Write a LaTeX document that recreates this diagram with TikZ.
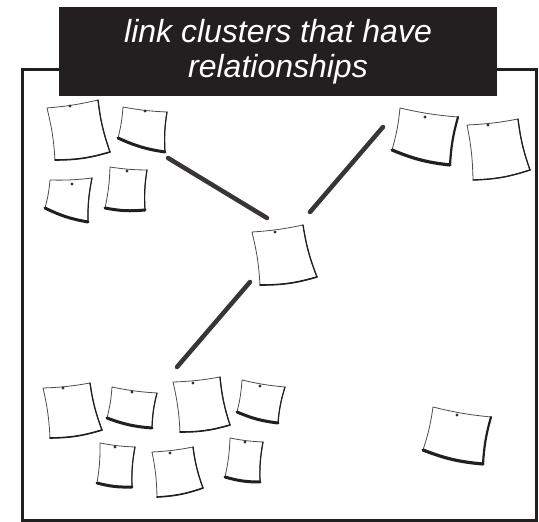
\documentclass[tikz,border=0pt]{standalone}
\usepackage{fontspec}
\setmainfont{Liberation Sans}
\definecolor{ink}{HTML}{231F20}
\tikzset{
  noteline/.style={draw=black!70, line width=0.8pt, fill=white, line join=round},
  noteshadow/.style={draw=ink, line cap=round},
  pinhead/.style={circle, fill=black!80, inner sep=0pt, minimum size=3.2pt},
  linkbar/.style={draw=ink!90, line width=4.5pt, line cap=round},
  frameline/.style={draw=ink, line width=3pt},
  titlebox/.style={fill=ink, text=white, inner sep=0pt, align=center,
    minimum width=438pt, minimum height=89pt,
    font=\fontsize{32}{35}\selectfont\itshape},
}
% #1 name, #2-#5 corners (tl, tr, br, bl), #6 pin, #7 bottom weight, #8 right weight
\newcommand\stickynote[8]{%
  \coordinate (#1-tl) at (#2);
  \coordinate (#1-tr) at (#3);
  \coordinate (#1-br) at (#4);
  \coordinate (#1-bl) at (#5);
  \path[noteline] (#1-tl) to[bend right=4] (#1-tr) to[bend right=6] (#1-br)
    to[bend left=8] (#1-bl) to[bend right=5] (#1-tl) -- cycle;
  \draw[noteshadow, line width=#8] (#1-tr) to[bend right=6] (#1-br);
  \draw[noteshadow, line width=#7] (#1-bl) to[bend right=8] (#1-br);
  \node[pinhead] (#1-pin) at (#6) {};
}
\begin{document}
\begin{tikzpicture}[x=1pt, y=-1pt]
  \useasboundingbox[fill=white] (0,0) rectangle (539,522);
  % outer frame
  \draw[frameline] (22,69.5) rectangle (536.5,520.5);
  % heading
  \node[titlebox] (title) at (278,51.5) {link clusters that have\\relationships};

  % top-left cluster
  \stickynote{a}{47,108}{98,100}{110,152}{55,160}{70,106}{1.6pt}{1.3pt}
  \stickynote{b}{123,107}{167,112}{165,152}{118,138}{145,111}{3pt}{1.2pt}
  \stickynote{c}{50,180}{92,178}{88,222}{45,208}{72,184}{3pt}{1.2pt}
  \stickynote{d}{110,167}{147,170}{145,210}{105,208}{127,171}{3pt}{1.2pt}
  % top-right cluster
  \stickynote{e}{400,108}{458,117}{450,165}{392,150}{425,117}{3.2pt}{2.2pt}
  \stickynote{f}{467,125}{518,119}{530,170}{473,180}{488,125}{1.4pt}{1.3pt}
  % hub
  \stickynote{g}{252,232}{303,225}{317,277}{260,285}{275,232}{1.6pt}{1.3pt}
  % bottom-left cluster
  \stickynote{h}{43,388}{90,383}{102,430}{50,438}{63,388}{1.6pt}{1.3pt}
  \stickynote{i}{112,387}{157,393}{152,428}{107,418}{132,392}{3pt}{1.2pt}
  \stickynote{j}{173,382}{220,377}{230,425}{180,432}{193,383}{1.6pt}{1.3pt}
  \stickynote{k}{242,380}{285,387}{278,423}{237,412}{260,386}{3pt}{1.2pt}
  \stickynote{l}{100,443}{135,447}{132,487}{97,483}{115,447}{3pt}{1.2pt}
  \stickynote{m}{152,452}{193,447}{203,488}{157,497}{170,453}{1.6pt}{1.3pt}
  \stickynote{n}{230,438}{263,442}{260,482}{225,477}{245,442}{3pt}{1.2pt}
  % lone note
  \stickynote{o}{433,407}{491,417}{483,464}{423,450}{457,415}{3.2pt}{2.2pt}

  % link bars between clusters
  \coordinate (l1a) at (168,158);
  \coordinate (l1b) at (267,218);
  \coordinate (l2a) at (383,127);
  \coordinate (l2b) at (310,212);
  \coordinate (l3a) at (250,282);
  \coordinate (l3b) at (177,367);
  \draw[linkbar] (l1a) -- (l1b);
  \draw[linkbar] (l2a) -- (l2b);
  \draw[linkbar] (l3a) -- (l3b);
\end{tikzpicture}
\end{document}
